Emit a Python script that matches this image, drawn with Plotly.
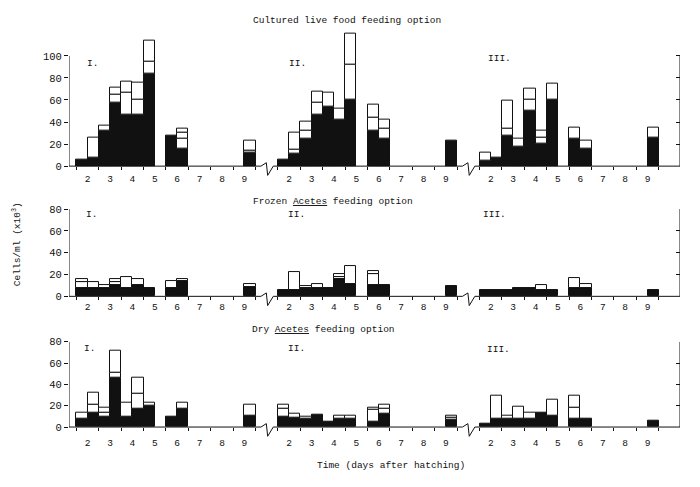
import plotly.graph_objects as go

# ---------------- data ----------------
DAYS = [2, 3, 4, 5, 6, 7, 8, 9]
GROUP_LABELS = ["I.", "II.", "III."]
ROW_TITLES = ["Cultured live food feeding option",
              "Frozen <u>Acetes</u> feeding option",
              "Dry <u>Acetes</u> feeding option"]
X_TITLE = "Time (days after hatching)"
Y_TITLE = "Cells/ml (x10<sup>3</sup>)"
Y_TICKS_TOP = [0, 20, 40, 60, 80, 100]
Y_TICKS_LOW = [0, 20, 40, 60, 80]

# Cumulative heights of stacked segments (black first, then white blocks),
# two half-day samples per day for days 2..9; () = no sample.
CULT_I = [(6,), (8, 26), (32, 37), (58, 65, 71), (47, 67, 77), (47, 60, 76), (84, 95, 114), (),
          (28,), (16, 25, 30, 34), (), (), (), (), (), (12, 14, 23)]
CULT_II = [(6,), (11, 15, 30), (25, 32, 40), (47, 58, 68), (54, 67), (42, 52), (60, 92, 120), (),
           (32, 44, 56), (25, 34, 42), (), (), (), (), (), (23,)]
CULT_III = [(5, 12), (8,), (28, 34, 59), (18, 25), (50, 60, 70), (20, 26, 32), (60, 75), (),
            (25, 35), (16, 23), (), (), (), (), (), (26, 35)]
FROZ_I = [(7.5, 13, 15.5), (7.5, 13), (7.5, 10.5), (10, 13.5, 16), (7.5, 18), (10, 15.5), (7.5,), (),
          (7.5, 14), (14, 16), (), (), (), (), (), (8.5, 11)]
FROZ_II = [(6,), (6, 22), (6.5, 8, 9.5), (8, 11), (8,), (16, 18, 20), (11, 27.5), (),
           (10.5, 20.5, 23.5), (10.5,), (), (), (), (), (), (9,)]
FROZ_III = [(5.5,), (5.5,), (5.5,), (8,), (8,), (5.5, 10.5), (5.5,), (),
            (7.5, 17), (7.5, 11), (), (), (), (), (), (5.5,)]
DRY_I = [(8, 13), (13, 20.5, 32.5), (10, 13, 18.5), (46, 51, 72), (10, 23), (17.5, 31, 46), (20, 22.5), (),
         (10,), (17.5, 23), (), (), (), (), (), (10.5, 20.5)]
DRY_II = [(10, 17, 20.5), (9, 12.5), (8, 10), (12,), (5,), (8, 10.5), (8, 10.5), (),
          (5, 16, 18.5), (12.5, 17.5, 20.5), (), (), (), (), (), (6.5, 8.5, 10.5)]
DRY_III = [(3,), (8, 29), (8, 11), (8, 19.5), (8, 13.5), (13.5,), (10.5, 25.5), (),
           (8, 18.5, 29), (8,), (), (), (), (), (), (5.5,)]

ROWS = [[CULT_I, CULT_II, CULT_III],
        [FROZ_I, FROZ_II, FROZ_III],
        [DRY_I, DRY_II, DRY_III]]

# ---------------- layout constants ----------------
W, H = 700, 487
PAGE_OFF = 8  # default body margin of the html page
GROUP_STEP = 9
XR = [1.17, 28.45]
X0_PX, X1_PX = 69, 680
# (baseline px, top px, y range top)
ROW_GEOM = [(165, 27.1, 122), (298.5, 209, 80), (432.5, 345, 80)]
ROW_TICKS = [Y_TICKS_TOP, Y_TICKS_LOW, Y_TICKS_LOW]
X_LABEL_TL = [3, 1, 7]
FONT = dict(family="Liberation Mono, Courier New, monospace", size=9.5, color="#111")
YFONT = dict(family="Liberation Mono, Courier New, monospace", size=10.5, color="#111")


def px(xp):
    return (xp - PAGE_OFF) / W


def py(yp):
    return 1 - (yp - PAGE_OFF) / H


fig = go.Figure()

major_vals, major_text, minor_vals = [], [], []
for g in range(3):
    for d in DAYS:
        major_vals.append(g * GROUP_STEP + d)
        major_text.append(str(d))
    for d in [DAYS[0] - 1] + DAYS:
        minor_vals.append(g * GROUP_STEP + d + 0.5)

layout_axes = {}
shapes = []
annotations = []

for r, groups in enumerate(ROWS):
    n = "" if r == 0 else str(r + 1)
    xa, ya = "x" + n, "y" + n
    yr = str(r + 4)
    base_px, top_px, ytop = ROW_GEOM[r]
    dom_h = base_px - top_px

    # stacked segments
    for k in range(4):
        xs, bases, hs = [], [], []
        for g, samples in enumerate(groups):
            for i, levels in enumerate(samples):
                if len(levels) > k:
                    d = DAYS[i // 2]
                    xs.append(g * GROUP_STEP + d - 0.25 + 0.5 * (i % 2))
                    lo = 0 if k == 0 else levels[k - 1]
                    bases.append(lo)
                    hs.append(levels[k] - lo)
        if xs:
            fig.add_trace(go.Bar(
                x=xs, y=hs, base=bases, width=0.5,
                marker=dict(color="#111" if k == 0 else "white",
                            line=dict(color="#111", width=1)),
                xaxis=xa, yaxis=ya, showlegend=False, hoverinfo="skip"))
    # dummy trace for right-side tick axis
    fig.add_trace(go.Scatter(x=[None], y=[None], xaxis=xa, yaxis="y" + yr,
                             showlegend=False, hoverinfo="skip"))

    layout_axes["xaxis" + n] = dict(
        domain=[px(X0_PX), px(X1_PX)], range=XR, anchor=ya,
        showline=False, showgrid=False, zeroline=False,
        tickmode="array", tickvals=major_vals, ticktext=major_text,
        ticks="outside", ticklen=X_LABEL_TL[r], tickcolor="rgba(0,0,0,0)",
        minor=dict(tickmode="array", tickvals=minor_vals, ticks="outside",
                   ticklen=3, tickwidth=1, tickcolor="#111", showgrid=False),
        tickfont=FONT)
    ydom = [py(base_px), py(top_px)]
    layout_axes["yaxis" + n] = dict(
        domain=ydom, range=[0, ytop], anchor=xa,
        showline=False, showgrid=False, zeroline=False,
        tickmode="array", tickvals=ROW_TICKS[r], ticks="outside",
        ticklen=4, tickwidth=1, tickcolor="#111", tickfont=YFONT)
    layout_axes["yaxis" + yr] = dict(
        overlaying=ya, anchor=xa, side="right", range=[0, ytop],
        showline=False, showgrid=False, zeroline=False,
        tickmode="array", tickvals=ROW_TICKS[r][1:], ticks="inside",
        ticklen=4, tickwidth=1, tickcolor="#111", showticklabels=False)

    # axis lines
    yend = ROW_TICKS[r][-1]
    for xv in XR:
        shapes.append(dict(type="line", xref=xa, yref=ya, x0=xv, x1=xv, y0=0, y1=yend,
                           line=dict(color="#111", width=1)))
    # baseline with break marks
    u, dn = 3.5 / dom_h, 9.5 / dom_h
    pts = [(XR[0], 0)]
    for g in (1, 2):
        s = g * GROUP_STEP
        pts += [(s + 0.74, 0), (s + 0.98, u), (s + 1.04, -dn), (s + 1.29, 0)]
    pts.append((XR[1], 0))
    path = "M " + " L ".join(f"{a},{b}" for a, b in pts)
    shapes.append(dict(type="path", xref=xa, yref=ya + " domain", path=path,
                       line=dict(color="#111", width=1)))

# titles & labels
TITLE_POS = [(251, 16), (251, 201), (250, 333)]
LABEL_POS = [[(85, 60), (287, 60), (486, 55)],
             [(84, 215), (286, 215), (481, 215)],
             [(82, 352), (286, 352), (485, 353)]]
for r in range(3):
    annotations.append(dict(text=ROW_TITLES[r], x=px(TITLE_POS[r][0]), y=py(TITLE_POS[r][1]),
                            xref="paper", yref="paper", xanchor="left", yanchor="middle",
                            showarrow=False, font=FONT))
    for g in range(3):
        lx, ly = LABEL_POS[r][g]
        annotations.append(dict(text=GROUP_LABELS[g], x=px(lx), y=py(ly),
                                xref="paper", yref="paper", xanchor="left", yanchor="middle",
                                showarrow=False, font=FONT))
annotations.append(dict(text=X_TITLE, x=px(315), y=py(472), xref="paper", yref="paper",
                        xanchor="left", yanchor="middle", showarrow=False, font=FONT))
annotations.append(dict(text=Y_TITLE, x=px(16), y=py(245), xref="paper", yref="paper",
                        xanchor="center", yanchor="middle", textangle=-90,
                        showarrow=False, font=FONT))

fig.update_layout(
    width=W, height=H, margin=dict(l=0, r=0, t=0, b=0),
    paper_bgcolor="white", plot_bgcolor="white",
    barmode="overlay", bargap=0, showlegend=False,
    shapes=shapes, annotations=annotations, **layout_axes)

fig.write_html("out.html")
